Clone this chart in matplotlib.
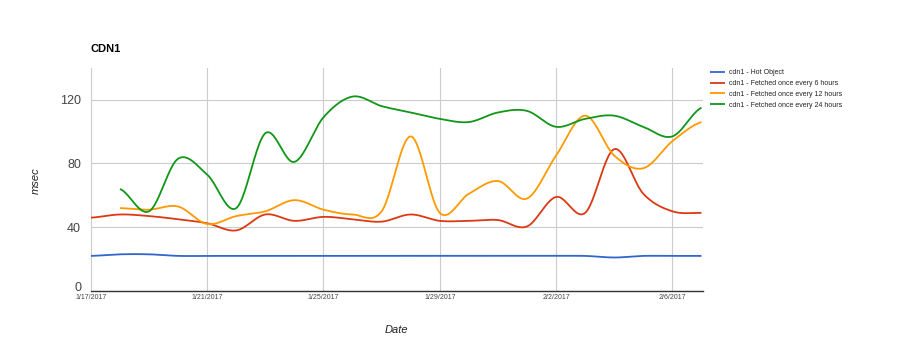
import matplotlib
matplotlib.use("Agg")
import matplotlib.pyplot as plt
import matplotlib.dates as mdates
import matplotlib.transforms as mtransforms
import numpy as np

plt.rcParams['font.family'] = ['Liberation Sans', 'DejaVu Sans']

# daily values (msec)
dates = np.arange(np.datetime64('2017-01-17'), np.datetime64('2017-02-08'))

hot = [22, 23, 23, 22, 22, 22, 22, 22, 22, 22, 22, 22, 22, 22, 22, 22, 22, 22, 21, 22, 22, 22]
every6 = [46, 48, 47, 45, 42.5, 38, 48, 44, 46.5, 45, 43.5, 48, 44, 44, 44.5, 40.5, 59, 49, 89, 61, 50, 49]
# 12h and 24h series start on 1/18
every12 = [52, 51, 53, 42, 47, 50, 57, 51, 48, 50, 97, 49, 61, 69, 58, 85, 110, 85, 77, 94, 106]
every24 = [64, 50, 83, 73, 52, 99, 81, 109, 122, 116, 112, 108, 106, 112, 113, 103, 108, 110, 103, 97, 115]

series_names = ['cdn1 - Hot Object', 'cdn1 - Fetched once every 6 hours',
                'cdn1 - Fetched once every 12 hours', 'cdn1 - Fetched once every 24 hours']
colors = ['#3366cc', '#dc3912', '#ff9900', '#109618']

tick_dates = dates[::4]
tick_labels = ['1/17/2017', '1/21/2017', '1/25/2017', '1/29/2017', '2/2/2017', '2/6/2017']
y_ticks = [0, 40, 80, 120]


def smooth(x, y, n=24):
    # catmull-rom style curve through the points, like the original's curved lines
    x = np.asarray(x, float)
    y = np.asarray(y, float)
    px = np.concatenate([[2 * x[0] - x[1]], x, [2 * x[-1] - x[-2]]])
    py = np.concatenate([[y[0]], y, [y[-1]]])
    xs, ys = [], []
    t = np.linspace(0, 1, n, endpoint=False)
    for i in range(1, len(px) - 2):
        p0, p1, p2, p3 = py[i - 1], py[i], py[i + 1], py[i + 2]
        m1 = (p2 - p0) / 2
        m2 = (p3 - p1) / 2
        h00 = 2 * t**3 - 3 * t**2 + 1
        h10 = t**3 - 2 * t**2 + t
        h01 = -2 * t**3 + 3 * t**2
        h11 = t**3 - t**2
        ys.append(h00 * p1 + h10 * m1 + h01 * p2 + h11 * m2)
        xs.append(px[i] + t * (px[i + 1] - px[i]))
    xs.append([x[-1]])
    ys.append([y[-1]])
    return np.concatenate(xs), np.concatenate(ys)


fig = plt.figure(figsize=(9, 3.61), dpi=100, facecolor='white')
ax = fig.add_axes([0.101, 0.194, 0.680, 0.618])

xnum = mdates.date2num(dates.astype('datetime64[D]').astype(object))
data = [(xnum, hot), (xnum, every6), (xnum[1:], every12), (xnum[1:], every24)]

for (x, y), name, c in zip(data, series_names, colors):
    sx, sy = smooth(x, y)
    ax.plot(sx, sy, color=c, lw=1.3, label=name, solid_capstyle='butt')

ax.set_xlim(xnum[0], xnum[-1] + 0.05)
ax.set_ylim(0, 140)
tnum = mdates.date2num(tick_dates.astype(object))
ax.set_xticks(tnum)
ax.set_xticklabels(tick_labels, fontsize=5, color='#444444')
ax.set_yticks(y_ticks)
ax.set_yticklabels([str(v) for v in y_ticks], fontsize=9, color='#444444')
ax.tick_params(axis='y', length=0, pad=7)
ax.tick_params(axis='x', length=0, pad=2.5)
ax.grid(True, color='#cccccc', lw=0.8)
ax.set_axisbelow(True)
for s in ['top', 'right', 'left']:
    ax.spines[s].set_visible(False)
ax.spines['bottom'].set_color('#333333')
ax.spines['bottom'].set_linewidth(1.0)

# the "0" label sits a little above the axis line, clear of the first date
zero_lbl = ax.get_yticklabels()[0]
zero_lbl.set_transform(zero_lbl.get_transform() +
                       mtransforms.ScaledTranslation(0, 3 / 72, fig.dpi_scale_trans))

fig.text(0.101, 0.865, 'CDN1', fontsize=8, fontweight='bold', ha='left', va='center')
fig.text(0.441, 0.085, 'Date', fontsize=8, style='italic', color='#222222', ha='center', va='center')
fig.text(0.04, 0.50, 'msec', fontsize=8, style='italic', color='#222222', rotation=90,
         ha='center', va='center')

leg = fig.legend(loc='upper left', bbox_to_anchor=(0.785, 0.818), frameon=False, fontsize=5,
                 handlelength=2.2, handletextpad=0.6, labelspacing=0.55, borderpad=0)
for t in leg.get_texts():
    t.set_color('#222222')

fig.savefig('out.png', dpi=100, facecolor='white')
